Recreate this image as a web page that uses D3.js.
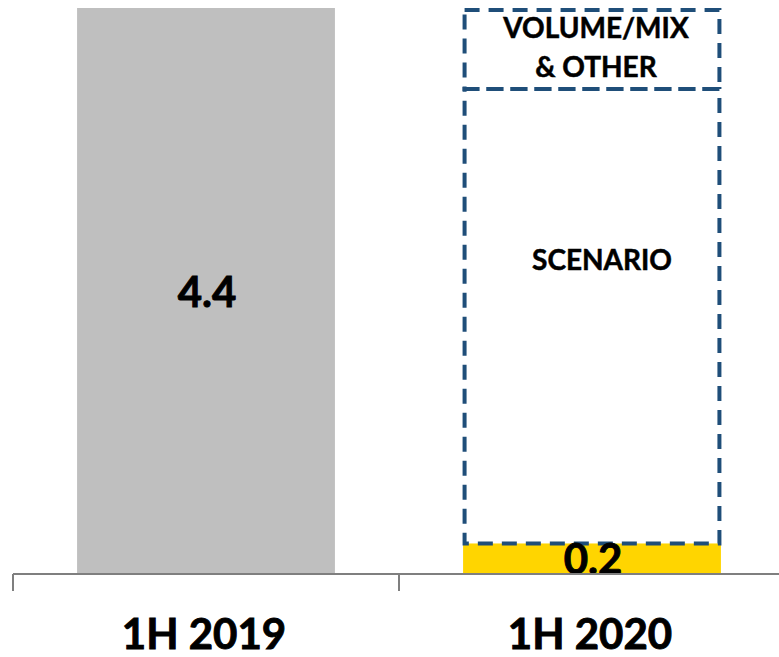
<!DOCTYPE html>
<html>
<head>
<meta charset="utf-8">
<script src="https://d3js.org/d3.v7.min.js"></script>
<style>
  html, body { margin: 0; padding: 0; background: #fff; }
  svg { display: block; font-family: 'Lato', 'Open Sans', sans-serif; font-weight: bold; }
  .heavy { stroke: #000; stroke-width: 0.9px; }
  .heavy-sm { stroke: #000; stroke-width: 0.5px; }
</style>
</head>
<body>
<svg id="chart" width="779" height="657"></svg>
<script>
// chart data
const categories = ["1H 2019", "1H 2020"];
const actualValues = [4.4, 0.23];
// outlined (dashed) segments stacked above the 1H 2020 bar
const outlineSegments = ["SCENARIO", "VOLUME/MIX\n& OTHER"];
const outlineValues = [3.54, 0.615];

const width = 779, height = 657;
const axisY = 574;

const svg = d3.select("#chart");

const x = d3.scaleBand()
  .domain(categories)
  .range([13, 785])
  .paddingInner(0.332)
  .paddingOuter(0.166);

const y = d3.scaleLinear()
  .domain([0, 4.4])
  .range([axisY - 1, 8]);

const fmt = d3.format(".1f");

// solid bars
svg.selectAll(".bar")
  .data(categories)
  .enter().append("rect")
  .attr("class", "bar")
  .attr("x", d => x(d))
  .attr("width", x.bandwidth())
  .attr("y", (d, i) => y(actualValues[i]))
  .attr("height", (d, i) => y(0) - y(actualValues[i]))
  .attr("fill", (d, i) => i === 0 ? "#bfbfbf" : "#ffd500");

// dashed outline boxes
let base = actualValues[1];
const boxes = outlineSegments.map((name, i) => {
  const b = { name, y0: base, y1: base + outlineValues[i] };
  base = b.y1;
  return b;
});

svg.selectAll(".outline")
  .data(boxes)
  .enter().append("rect")
  .attr("class", "outline")
  .attr("x", x(categories[1]) + 1.5)
  .attr("width", x.bandwidth() - 3)
  .attr("y", d => y(d.y1))
  .attr("height", d => y(d.y0) - y(d.y1))
  .attr("fill", "none")
  .attr("stroke", "#1f4e79")
  .attr("stroke-width", 4)
  .attr("stroke-dasharray", "15,9");

// labels in outlined boxes
svg.append("text")
  .attr("class", "heavy-sm")
  .attr("x", x(categories[1]) + x.bandwidth() / 2 + 10)
  .attr("y", y(boxes[0].y1) + 181)
  .attr("text-anchor", "middle")
  .attr("font-size", 28)
  .text(boxes[0].name);

const volText = svg.append("text")
  .attr("class", "heavy-sm")
  .attr("x", x(categories[1]) + x.bandwidth() / 2 + 4)
  .attr("y", y(boxes[1].y1) + 28)
  .attr("text-anchor", "middle")
  .attr("font-size", 28);
boxes[1].name.split("\n").forEach((line, i) => {
  volText.append("tspan")
    .attr("x", x(categories[1]) + x.bandwidth() / 2 + 4)
    .attr("dy", i === 0 ? 0 : 39)
    .text(line);
});

// value labels
svg.selectAll(".value")
  .data(categories)
  .enter().append("text")
  .attr("class", "value heavy")
  .attr("x", d => x(d) + x.bandwidth() / 2 + 1)
  .attr("y", (d, i) => (y(actualValues[i]) + y(0)) / 2 + 16)
  .attr("text-anchor", "middle")
  .attr("font-size", 42)
  .attr("fill", "#000")
  .text((d, i) => fmt(actualValues[i]));

// axis line and category separators
svg.append("line")
  .attr("x1", 13).attr("x2", width)
  .attr("y1", axisY).attr("y2", axisY)
  .attr("stroke", "#7f7f7f")
  .attr("stroke-width", 2);

svg.selectAll(".tick")
  .data(categories)
  .enter().append("line")
  .attr("class", "tick")
  .attr("x1", d => x(d) - x.step() * x.paddingInner() / 2)
  .attr("x2", d => x(d) - x.step() * x.paddingInner() / 2)
  .attr("y1", axisY)
  .attr("y2", axisY + 17)
  .attr("stroke", "#7f7f7f")
  .attr("stroke-width", 2);

svg.selectAll(".cat")
  .data(categories)
  .enter().append("text")
  .attr("class", "cat heavy")
  .attr("x", d => x(d) + x.bandwidth() / 2 - 2)
  .attr("y", 649)
  .attr("text-anchor", "middle")
  .attr("font-size", 42)
  .text(d => d);
</script>
</body>
</html>
